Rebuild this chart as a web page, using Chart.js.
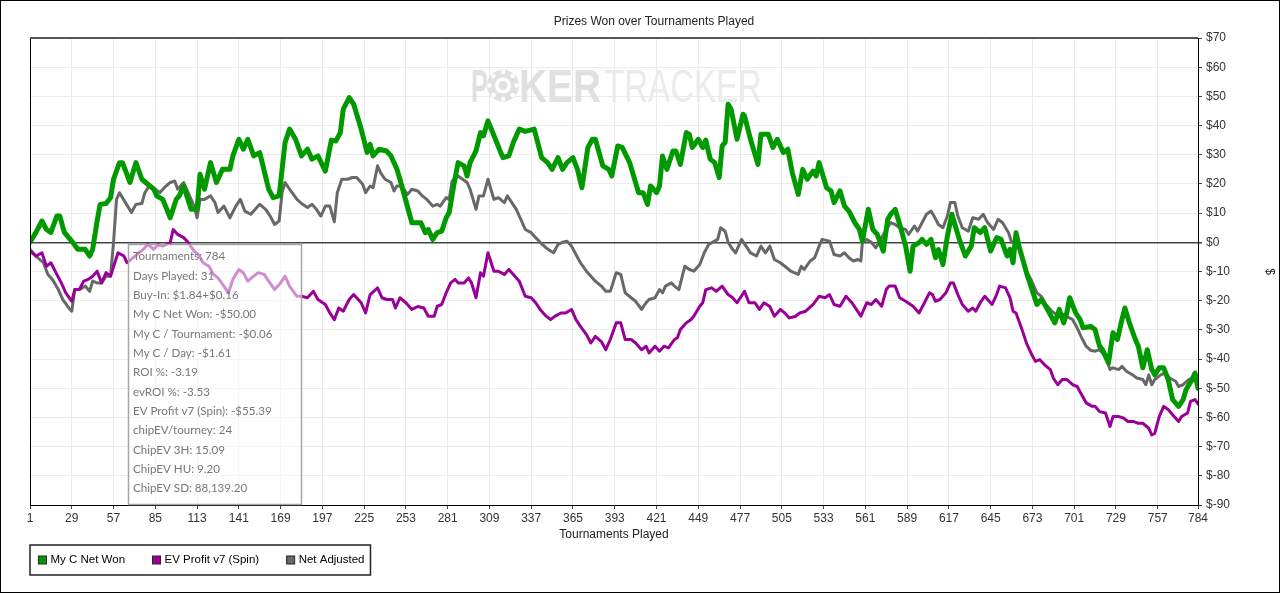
<!DOCTYPE html>
<html>
<head>
<meta charset="utf-8">
<title>Prizes Won over Tournaments Played</title>
<script src="https://cdn.jsdelivr.net/npm/chart.js@4.4.1/dist/chart.umd.min.js"></script>
<style>
  html, body { margin: 0; padding: 0; background: #fff; }
  #wrap { width: 1280px; height: 593px; }
</style>
</head>
<body>
<div id="wrap"><canvas id="chart" width="1280" height="593"></canvas></div>
<script>
// tick labels on the x axis (tournament numbers)
const xTicks = [1, 29, 57, 85, 113, 141, 169, 197, 225, 253, 281, 309, 337, 365, 393,
  421, 449, 477, 505, 533, 561, 589, 617, 645, 673, 701, 729, 757, 784];

const seriesNames = ['My C Net Won', 'EV Profit v7 (Spin)', 'Net Adjusted'];

// [tournament, dollars]
const netWon = [[1,0],[5,3.4],[9,7.3],[12,4.4],[15,3.4],[19,9],[21,9],[24,3.4],[29,0.4],[33,-2.4],[38,-2.4],[41,-4.7],[43,-2.4],[46,7.3],[48,13],[52,13.3],[55,15.3],[57,21.6],[61,27.3],[63,27.3],[68,20.5],[72,27.3],[76,21.6],[80,19.9],[84,18.2],[86,15.9],[90,14.7],[95,8.4],[99,14.7],[101,15.9],[104,19.3],[109,11.3],[113,11.3],[115,23.3],[118,18.2],[122,27.3],[126,20.5],[130,25],[135,25],[137,29.6],[141,35.3],[144,31.9],[147,35.3],[151,29.6],[155,30.7],[161,18.2],[164,15.3],[168,15.9],[172,34.2],[175,38.8],[179,35.3],[183,29.6],[187,31.9],[190,28.5],[194,29.6],[199,24.4],[203,35],[206,34.7],[209,37.5],[211,45.6],[215,49.6],[218,47.3],[223,38.8],[227,30.8],[229,33.6],[231,29.6],[235,31.9],[240,31.3],[243,29.6],[247,25],[249,21.6],[257,6.7],[263,6.7],[266,3.3],[268,4.4],[271,1],[274,3.3],[277,3.8],[280,8.4],[282,10.2],[285,19.3],[288,27.3],[292,26.2],[294,22.7],[296,27.3],[300,31.3],[303,37.6],[305,36.5],[308,41.6],[313,35.3],[318,29],[322,29.6],[325,34.2],[329,38.8],[333,38],[339,38.8],[344,29],[348,27.3],[351,25],[355,29],[358,25],[361,27.3],[365,29],[368,25],[371,18.7],[375,32.5],[378,35.3],[380,35.3],[385,26.2],[389,25],[391,22.7],[395,33],[398,32.5],[403,27.3],[409,17],[412,17],[415,13],[417,19.3],[421,17],[423,19.3],[425,29.6],[428,25],[432,31.3],[434,31.3],[437,26.7],[441,37.6],[443,37],[445,32.5],[449,35.3],[452,32.5],[454,35],[457,28.5],[460,27.3],[463,22.2],[465,33],[467,34.2],[469,47.3],[471,45.6],[475,35.3],[479,43.9],[480,43.3],[484,35.3],[489,26.7],[491,37],[496,37],[499,32.5],[502,35.3],[506,30.8],[509,31.9],[512,23.9],[516,16.4],[519,25],[522,21.6],[526,24.4],[528,22.7],[530,27.3],[535,18.7],[538,17.6],[540,13.6],[544,17.6],[547,12.4],[550,10.7],[554,6.7],[557,4.4],[559,0.4],[563,11.3],[566,4.4],[569,2.7],[573,-3],[576,7.9],[578,9.6],[581,11.3],[585,4.4],[588,-1.3],[591,-9.9],[593,-1.3],[597,-0.1],[599,1],[602,-0.7],[605,1],[608,-5.3],[610,-2.5],[613,-7.6],[616,2.1],[619,9.6],[624,1],[628,-4.7],[632,-1.3],[634,5],[638,3.3],[641,5],[645,-3],[649,1.6],[652,1],[656,-4.7],[658,-2.4],[660,-7],[662,3.3],[664,-1.3],[669,-10.4],[672,-15],[676,-21.3],[679,-19.6],[682,-22],[688,-27.6],[691,-23],[694,-27.6],[696,-24.2],[698,-19],[702,-24.2],[705,-26.5],[707,-29.3],[710,-29],[712,-28.8],[715,-29.9],[718,-35.6],[720,-36.8],[724,-41.3],[727,-31],[730,-33.3],[733,-26.5],[735,-22.5],[738,-27.6],[742,-33.3],[744,-35.6],[747,-43],[750,-36.8],[753,-43.6],[755,-45.4],[758,-43],[761,-43],[764,-47],[767,-53.9],[771,-56.2],[774,-53.9],[776,-50.5],[780,-47],[782,-44.8],[784,-50]];

const evProfit = [[1,-3],[5,-4.7],[9,-3.6],[12,-8.2],[15,-7],[19,-11],[22,-13.9],[25,-17.3],[29,-20.2],[31,-16.2],[34,-16.2],[37,-13.3],[40,-12.7],[43,-11.6],[46,-9.9],[49,-13.9],[52,-10.4],[55,-11.6],[60,-3.6],[64,-4.7],[66,-7],[70,-5.3],[74,-3.6],[77,-2.4],[80,-0.7],[84,-2.4],[87,-0.7],[90,-1.3],[95,-0.1],[97,4.4],[100,2.7],[104,1.6],[107,0],[111,-3],[114,-4.2],[117,-7],[121,-8.2],[124,-11],[127,-12.2],[131,-15],[134,-17.3],[137,-12.7],[141,-9.3],[144,-10.4],[147,-13.3],[151,-11.6],[154,-10.4],[158,-11],[161,-13.3],[165,-16.2],[169,-13.9],[172,-11.6],[175,-15],[180,-18.5],[183,-18.5],[187,-19],[191,-16.8],[194,-19.6],[199,-21.3],[202,-24.2],[205,-26.5],[208,-22.5],[211,-23.6],[215,-19.6],[218,-17.9],[223,-20.7],[226,-24.2],[229,-17.9],[234,-15.6],[237,-19],[240,-19.6],[244,-19.6],[246,-22.5],[249,-19],[253,-20.7],[257,-23],[261,-22],[265,-22.5],[268,-25.3],[272,-25.3],[274,-21.9],[277,-21.3],[280,-17.3],[283,-13.9],[286,-12.7],[288,-13.9],[292,-13.9],[295,-12.2],[297,-13.9],[300,-19],[303,-10.4],[305,-11.6],[308,-3.6],[312,-9.9],[315,-9.9],[319,-11],[322,-9.3],[325,-11],[329,-13.3],[333,-18.5],[337,-19],[340,-20.7],[343,-23],[347,-25.3],[350,-26.5],[353,-25.3],[357,-24.2],[360,-24.2],[364,-23],[367,-26.5],[370,-28.8],[374,-31.6],[377,-34.5],[380,-32.2],[384,-34],[387,-36.8],[390,-33.3],[394,-27.6],[397,-27.6],[400,-33.3],[404,-33.3],[407,-34.5],[411,-36.8],[414,-35.6],[416,-37.9],[420,-35.6],[423,-37.3],[426,-35.6],[429,-36.2],[433,-33.3],[435,-32.7],[437,-29.9],[441,-27.6],[444,-26.5],[446,-25.3],[450,-21.9],[452,-20.7],[454,-16.2],[458,-15.6],[461,-16.8],[465,-15],[469,-17.9],[472,-19],[475,-20.7],[480,-16.8],[483,-20.7],[487,-20.7],[490,-23],[493,-20.7],[497,-22],[500,-25.3],[504,-23],[507,-24.2],[510,-25.9],[514,-25.4],[517,-24.2],[521,-23.6],[526,-21.3],[530,-18.5],[534,-19],[537,-17.9],[540,-21.3],[544,-21.9],[548,-18.5],[552,-20.7],[555,-23],[558,-25.3],[562,-20.7],[565,-21.3],[568,-19.6],[572,-21.9],[575,-16.2],[577,-15],[581,-15],[584,-19],[588,-20.2],[593,-21.9],[597,-24.2],[600,-21.3],[604,-17.3],[606,-17.9],[608,-20.2],[611,-19.6],[615,-17.3],[618,-13.9],[620,-13.9],[623,-17.9],[626,-21.3],[630,-23.6],[633,-22.5],[635,-23.6],[638,-20.7],[641,-18.5],[646,-21.3],[649,-17.9],[651,-15],[655,-15.6],[658,-19],[660,-23.6],[662,-24.2],[666,-29.9],[669,-34.5],[672,-37.9],[675,-40.8],[678,-40.2],[681,-41.9],[685,-43.6],[687,-46.5],[690,-48.8],[693,-47],[696,-47],[700,-48.8],[703,-49.4],[706,-52.2],[709,-55],[713,-56.2],[715,-56.2],[718,-58],[722,-58.5],[725,-63.1],[727,-59.7],[731,-59.7],[734,-60.2],[737,-61.4],[741,-61.4],[744,-62],[747,-62],[751,-63.7],[753,-66],[755,-65.5],[758,-59.7],[761,-56.2],[764,-57.3],[768,-59.7],[771,-61.4],[773,-59.7],[777,-58.5],[779,-54.5],[782,-53.9],[784,-55.4]];

const netAdjusted = [[1,-2.4],[5,-4.7],[10,-7],[13,-11],[16,-12.7],[20,-16.2],[23,-19.6],[27,-22.5],[29,-23.6],[31,-16.2],[34,-16.2],[38,-15],[41,-16.8],[43,-13.3],[46,-13.9],[49,-13.9],[52,-11.6],[55,-11.6],[57,0],[59,14.7],[61,17],[65,13.6],[69,10.2],[72,13],[76,13.3],[78,17],[81,19.3],[85,18.2],[88,17],[91,18.7],[95,20.5],[98,21],[100,18.2],[104,20.5],[107,17],[111,12.4],[113,8.4],[115,14.7],[118,14.7],[122,15.9],[125,13.6],[127,10.2],[131,12.4],[135,8.4],[139,12.4],[142,14.7],[145,10.7],[149,9.6],[152,11.3],[155,13],[159,11.3],[162,9],[165,6.1],[168,7.3],[170,17],[172,20.5],[175,18.2],[180,14.7],[183,13.3],[187,11.9],[190,13],[193,11.3],[196,9],[199,12.4],[202,12.4],[205,7],[207,17],[210,21.6],[214,21.6],[217,22.2],[220,22.2],[224,19.9],[226,17],[229,19.3],[231,18.7],[234,26.2],[236,23.9],[239,21.6],[243,20.5],[245,17.6],[247,19.3],[250,19.3],[254,16.4],[257,18.2],[261,17.6],[264,15.9],[267,14.7],[271,12.4],[274,13],[276,12.4],[280,15.3],[282,14.7],[284,21],[288,22.7],[291,21.6],[294,20.5],[296,18.2],[300,11.3],[302,15.9],[305,15.9],[308,21.6],[312,14.7],[315,15.3],[319,13.6],[321,15.9],[324,13.6],[327,11.3],[330,7.9],[333,4.4],[337,3.3],[340,1.6],[343,0],[347,-1.9],[350,-3],[352,-3.6],[355,-0.7],[358,0],[361,0.4],[364,-1.3],[367,-4.2],[370,-7],[374,-9.9],[377,-11.6],[380,-13.3],[384,-15],[387,-16.8],[390,-16.8],[394,-10.4],[397,-11],[400,-17.3],[404,-19],[407,-20.2],[411,-23],[414,-20.7],[416,-19.6],[420,-19],[423,-16.2],[425,-17.3],[427,-15],[431,-13.9],[433,-15],[436,-16.2],[440,-8.2],[443,-9.3],[446,-9.9],[450,-7.6],[453,-3.6],[456,-0.7],[460,0.4],[462,1],[464,5],[467,3.8],[469,0],[472,-2.4],[474,-3.6],[478,1],[481,-1.3],[484,-3.6],[488,-4.7],[491,-1.3],[494,-3.6],[497,-1.3],[500,-5.9],[504,-7],[507,-8.2],[511,-9.9],[516,-11],[518,-8.2],[520,-9.3],[524,-6.4],[527,-5.3],[530,-1.3],[532,1],[537,0.4],[540,-4.2],[544,-4.7],[547,-3.6],[550,-5.3],[553,-6.4],[556,-5.9],[558,-6.4],[559,0],[562,1],[565,0],[568,-1.9],[572,1.6],[575,4.4],[578,6.7],[581,6.1],[584,5],[588,4.4],[590,2.7],[594,5.6],[596,3.8],[599,6.7],[602,9.6],[605,10.7],[607,9],[610,6.1],[613,5],[616,9],[618,13.6],[621,13.6],[623,9],[626,5],[630,3.8],[633,8.4],[637,7.9],[640,9.6],[643,6.7],[647,4.4],[650,7.9],[653,6.7],[657,3.3],[659,0],[662,0.6],[666,-5.3],[669,-9.9],[672,-12.7],[676,-17.3],[679,-18.5],[682,-21.3],[686,-23.6],[689,-24.7],[692,-24.2],[696,-25.4],[700,-26.5],[703,-29.3],[706,-32.7],[709,-35.6],[712,-37],[715,-37.3],[718,-36.8],[722,-39],[725,-43.6],[727,-43],[731,-43.6],[733,-42.5],[736,-44.2],[740,-45.4],[743,-46.5],[747,-47],[749,-48.8],[751,-45.4],[753,-48.8],[755,-47],[759,-45.4],[762,-44.8],[765,-46.5],[769,-47.6],[771,-49.4],[774,-48.8],[778,-47],[781,-46.5],[784,-47]];

// summary box text
const statLines = [
  'Tournaments: 784',
  'Days Played: 31',
  'Buy-In: $1.84+$0.16',
  'My C Net Won: -$50.00',
  'My C / Tournament: -$0.06',
  'My C / Day: -$1.61',
  'ROI %: -3.19',
  'evROI %: -3.53',
  'EV Profit v7 (Spin): -$55.39',
  'chipEV/tourney: 24',
  'ChipEV 3H: 15.09',
  'ChipEV HU: 9.20',
  'ChipEV SD: 88,139.20'
];

const colors = ['#009900', '#990099', '#686868'];
const SANS = '"Liberation Sans", Arial, sans-serif';

function toXY(arr) {
  return arr.map(p => ({ x: p[0], y: p[1] }));
}

function fitText(ctx, s, x, w, y) {
  const m = ctx.measureText(s).width;
  ctx.save();
  ctx.translate(x, y);
  ctx.scale(w / m, 1);
  ctx.fillText(s, 0, 0);
  ctx.restore();
}

const decor = {
  id: 'decor',
  beforeDatasetsDraw(chart) {
    // faint watermark
    const ctx = chart.ctx;
    ctx.save();
    ctx.textBaseline = 'alphabetic';
    ctx.fillStyle = '#e0e0e0';
    ctx.font = 'bold 46px ' + SANS;
    fitText(ctx, 'P', 471, 17, 102);
    fitText(ctx, 'KER', 519, 82, 102);
    ctx.beginPath();
    ctx.arc(503, 85.5, 16, 0, Math.PI * 2);
    ctx.fill();
    ctx.fillStyle = '#fff';
    for (let i = 0; i < 8; i++) {
      const a = i * Math.PI / 4;
      ctx.beginPath();
      ctx.arc(503 + Math.cos(a) * 13.5, 85.5 + Math.sin(a) * 13.5, 2.2, 0, Math.PI * 2);
      ctx.fill();
    }
    ctx.beginPath();
    ctx.arc(503, 85.5, 8, 0, Math.PI * 2);
    ctx.fill();
    ctx.fillStyle = '#e0e0e0';
    ctx.beginPath();
    ctx.arc(503, 85.5, 4.5, 0, Math.PI * 2);
    ctx.fill();
    ctx.fillStyle = '#ebebeb';
    ctx.font = '46px ' + SANS;
    fitText(ctx, 'TRACKER', 604, 158, 102);
    ctx.restore();
  },
  afterDatasetsDraw(chart) {
    const ctx = chart.ctx;
    const a = chart.chartArea;
    ctx.save();
    // summary box
    ctx.fillStyle = 'rgba(255,255,255,0.55)';
    ctx.fillRect(128.5, 244.5, 173, 260);
    ctx.strokeStyle = '#a6a6a6';
    ctx.lineWidth = 1.5;
    ctx.strokeRect(128.5, 244.5, 173, 260);
    ctx.fillStyle = '#777';
    ctx.font = '11.6px Lato, "Segoe UI", sans-serif';
    ctx.textBaseline = 'middle';
    statLines.forEach((s, i) => ctx.fillText(s, 133, 256.5 + i * 19.33));
    // plot frame
    ctx.strokeStyle = '#000';
    ctx.lineWidth = 1;
    ctx.beginPath();
    ctx.moveTo(a.left + 0.5, a.top);
    ctx.lineTo(a.left + 0.5, a.bottom);
    ctx.stroke();
    ctx.strokeStyle = '#555';
    ctx.lineWidth = 2;
    ctx.beginPath();
    ctx.moveTo(a.left, a.top);
    ctx.lineTo(a.right, a.top);
    ctx.stroke();
    ctx.restore();
  },
  afterDraw(chart) {
    const ctx = chart.ctx;
    ctx.save();
    // legend box
    ctx.font = '11.5px ' + SANS;
    ctx.textBaseline = 'middle';
    let x = 38.5;
    const y = 560;
    const sets = chart.data.datasets;
    sets.forEach((ds, i) => {
      ctx.fillStyle = ds.borderColor;
      ctx.fillRect(x, y - 4, 8, 8);
      ctx.strokeStyle = '#222';
      ctx.lineWidth = 1;
      ctx.strokeRect(x, y - 4, 8, 8);
      ctx.fillStyle = '#000';
      ctx.fillText(ds.label, x + 12, y);
      x += 12 + ctx.measureText(ds.label).width + (i < sets.length - 1 ? 27.5 : 0);
    });
    ctx.strokeStyle = '#222';
    ctx.lineWidth = 1.5;
    ctx.strokeRect(30, 545, x + 6 - 30, 30);
    // outer border
    ctx.strokeStyle = '#000';
    ctx.lineWidth = 1;
    ctx.strokeRect(0.5, 0.5, 1279, 592);
    ctx.restore();
  }
};

Chart.defaults.font.family = SANS;
Chart.defaults.font.size = 12;
Chart.defaults.color = '#333';

const ctx = document.getElementById('chart').getContext('2d');
new Chart(ctx, {
  type: 'line',
  data: {
    datasets: [
      { label: seriesNames[0], data: toXY(netWon), borderColor: colors[0], backgroundColor: colors[0], borderWidth: 5 },
      { label: seriesNames[1], data: toXY(evProfit), borderColor: colors[1], backgroundColor: colors[1], borderWidth: 3 },
      { label: seriesNames[2], data: toXY(netAdjusted), borderColor: colors[2], backgroundColor: colors[2], borderWidth: 3 }
    ]
  },
  options: {
    responsive: false,
    animation: false,
    devicePixelRatio: 1,
    elements: {
      point: { radius: 0 },
      line: { tension: 0, borderJoinStyle: 'round', borderCapStyle: 'round' }
    },
    layout: { padding: { left: 30, right: 2, top: 0, bottom: 48 } },
    plugins: {
      legend: { display: false },
      tooltip: { enabled: false },
      title: {
        display: true,
        text: 'Prizes Won over Tournaments Played',
        color: '#222',
        font: { size: 12, weight: 'normal' },
        padding: { top: 14, bottom: 9.6 }
      }
    },
    scales: {
      x: {
        type: 'linear',
        min: 1,
        max: 784,
        afterBuildTicks: s => { s.ticks = xTicks.map(v => ({ value: v })); },
        afterFit: s => { s.height = 40; },
        grid: { color: '#ebebeb', tickColor: '#444', tickLength: 4 },
        border: { color: '#000', width: 1 },
        ticks: { autoSkip: false, maxRotation: 0, padding: 2, color: '#333' },
        title: { display: true, text: 'Tournaments Played', color: '#222', padding: { top: 0, bottom: 3 } }
      },
      y: {
        position: 'right',
        min: -90,
        max: 70,
        afterFit: s => { s.width = 80; },
        grid: {
          color: c => (c.tick && c.tick.value === 0) ? '#444' : '#ebebeb',
          lineWidth: c => (c.tick && c.tick.value === 0) ? 1.5 : 1,
          tickColor: '#444',
          tickLength: 4
        },
        border: { color: '#000', width: 1 },
        ticks: { stepSize: 10, padding: 4, color: '#333', callback: v => '$' + v },
        title: { display: true, text: '$', color: '#222', padding: { top: 1, bottom: 0 } }
      }
    }
  },
  plugins: [decor]
});
</script>
</body>
</html>
